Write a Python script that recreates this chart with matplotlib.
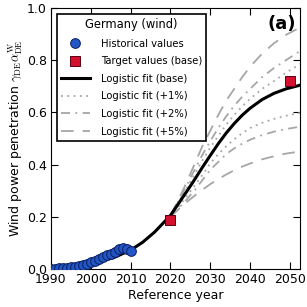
import matplotlib
matplotlib.use("Agg")
import matplotlib.pyplot as plt

plt.rcParams['mathtext.fontset'] = 'cm'

# Historical wind penetration (Germany)
hist_years = list(range(1990, 2011))
hist_vals = [0.001, 0.001, 0.002, 0.003, 0.005, 0.007, 0.009, 0.012, 0.016, 0.020,
             0.025, 0.030, 0.038, 0.045, 0.052, 0.056, 0.065, 0.077, 0.079, 0.077, 0.070]

# Target values
target_years = [2020, 2050]
target_vals = [0.188, 0.72]

# Logistic fit (base)
base_years = [1990, 1994, 1998, 2002, 2006, 2010, 2013, 2016, 2018, 2020, 2022, 2024,
              2026, 2028, 2030, 2032, 2034, 2036, 2038, 2040, 2043, 2046, 2049, 2052.5]
base_vals = [0.006, 0.010, 0.017, 0.027, 0.045, 0.072, 0.102, 0.141, 0.173, 0.205, 0.250,
             0.295, 0.341, 0.389, 0.435, 0.480, 0.521, 0.557, 0.589, 0.616, 0.649, 0.673,
             0.690, 0.704]

# Variant fits (start at 2020)
var_years = [2020, 2022, 2024, 2026, 2028, 2030, 2032, 2034, 2036, 2038, 2040, 2043,
             2046, 2049, 2052.5]
up1 = [0.205, 0.255, 0.308, 0.362, 0.415, 0.465, 0.510, 0.553, 0.590, 0.623, 0.652,
       0.690, 0.720, 0.752, 0.785]
lo1 = [0.200, 0.237, 0.277, 0.318, 0.360, 0.405, 0.440, 0.470, 0.497, 0.520, 0.540,
       0.560, 0.575, 0.587, 0.598]
up2 = [0.205, 0.260, 0.318, 0.378, 0.437, 0.490, 0.540, 0.585, 0.625, 0.660, 0.690,
       0.735, 0.770, 0.800, 0.835]
lo2 = [0.200, 0.232, 0.265, 0.300, 0.340, 0.380, 0.410, 0.440, 0.462, 0.480, 0.495,
       0.513, 0.526, 0.536, 0.545]
up5 = [0.205, 0.265, 0.330, 0.400, 0.470, 0.530, 0.590, 0.645, 0.690, 0.735, 0.775,
       0.825, 0.865, 0.897, 0.925]
lo5 = [0.200, 0.228, 0.255, 0.280, 0.303, 0.325, 0.344, 0.362, 0.378, 0.392, 0.404,
       0.420, 0.432, 0.442, 0.450]

grey = "#a6a6a6"

fig = plt.figure(figsize=(3.07, 3.07), dpi=100)
ax = fig.add_axes([0.166, 0.124, 0.811, 0.850])

ax.plot(var_years, up1, color=grey, lw=1.3, ls=(0, (1, 2.5)), label="Logistic fit (+1%)")
ax.plot(var_years, lo1, color=grey, lw=1.3, ls=(0, (1, 2.5)))
ax.plot(var_years, up2, color=grey, lw=1.3, ls=(0, (5, 3, 1, 3)), label="Logistic fit (+2%)")
ax.plot(var_years, lo2, color=grey, lw=1.3, ls=(0, (5, 3, 1, 3)))
ax.plot(var_years, up5, color=grey, lw=1.3, ls=(0, (7, 5)), label="Logistic fit (+5%)")
ax.plot(var_years, lo5, color=grey, lw=1.3, ls=(0, (7, 5)))

ax.plot(base_years, base_vals, color="black", lw=2.2, label="Logistic fit (base)", zorder=3)
ax.plot(hist_years, hist_vals, 'o', color="#2256c4", mec="#0b1d5e", mew=0.7, ms=7,
        label="Historical values", zorder=4)
ax.plot(target_years, target_vals, 's', color="#d3102e", mec="#5a0010", mew=0.7, ms=7.5,
        label="Target values (base)", zorder=4)

ax.set_xlim(1990, 2052.5)
ax.set_ylim(0, 1)
ax.set_xticks(range(1990, 2051, 10))
ax.set_yticks([0.0, 0.2, 0.4, 0.6, 0.8, 1.0])
ax.tick_params(direction="in", top=True, right=True, length=5, labelsize=9, pad=3)
ax.set_xlabel("Reference year", fontsize=9, labelpad=2)
ax.set_ylabel(r"Wind power penetration $\gamma_{\rm DE}\alpha_{\rm DE}^{\rm W}$",
              fontsize=9, labelpad=2)

ax.text(0.985, 0.975, "(a)", transform=ax.transAxes, ha="right", va="top",
        fontsize=13, fontweight="bold")

handles, labels = ax.get_legend_handles_labels()
order = ["Historical values", "Target values (base)", "Logistic fit (base)",
         "Logistic fit (+1%)", "Logistic fit (+2%)", "Logistic fit (+5%)"]
hmap = dict(zip(labels, handles))
leg = ax.legend([hmap[k] for k in order], order, loc="upper left", title="Germany (wind)",
                fontsize=7.2, title_fontsize=8.3, fancybox=False, edgecolor="black",
                handlelength=2.9, handletextpad=1.1, borderaxespad=0.6,
                labelspacing=0.76, borderpad=0.4, framealpha=1)
leg.get_frame().set_linewidth(1.2)

fig.savefig("out.png", dpi=100)
